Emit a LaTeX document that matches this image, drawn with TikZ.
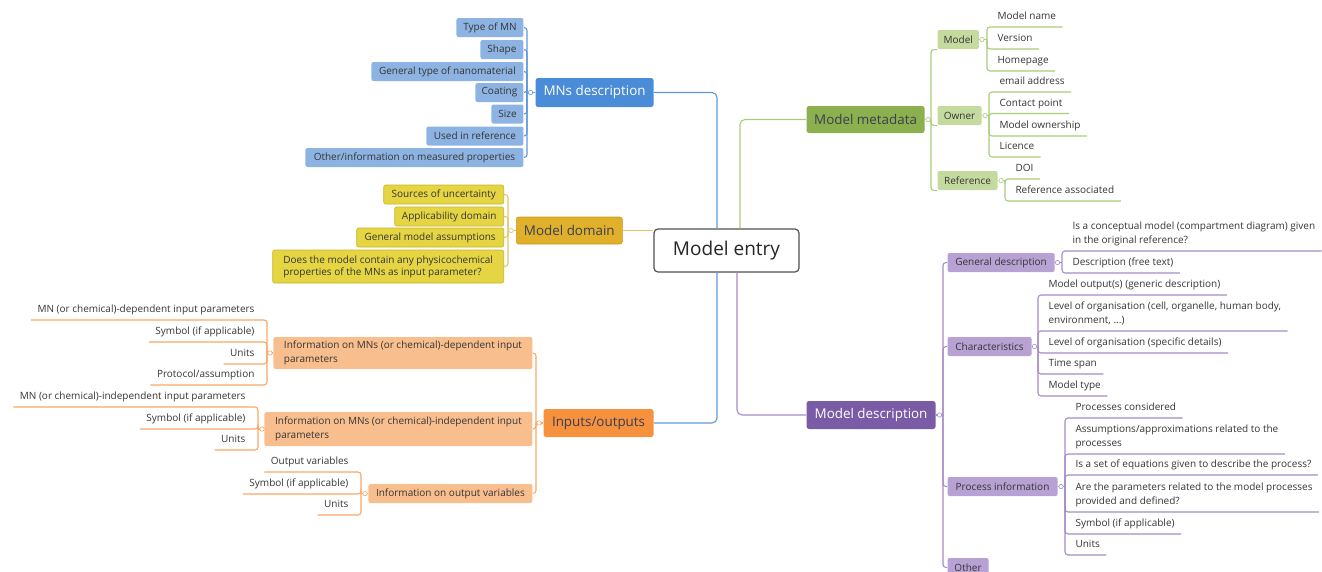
\documentclass[tikz,border=0pt]{standalone}
\usepackage{fontspec}
\setmainfont{Open Sans}
\definecolor{rootgray}{HTML}{505050}
\definecolor{txtgray}{HTML}{353535}
\definecolor{darktxt}{HTML}{3A3F55}
\definecolor{bluetop}{HTML}{4A8CD8}
\definecolor{bluesub}{HTML}{8DB3E2}
\definecolor{blueln}{HTML}{5E98DA}
\definecolor{yellowtop}{HTML}{E0B02A}
\definecolor{yellowdark}{HTML}{C99A1A}
\definecolor{yellowsub}{HTML}{E6D543}
\definecolor{yellowsubdk}{HTML}{C8B42A}
\definecolor{yellowln}{HTML}{E2C46E}
\definecolor{orangetop}{HTML}{F6913D}
\definecolor{orangesub}{HTML}{F9BE8E}
\definecolor{orangeln}{HTML}{F7A865}
\definecolor{greentop}{HTML}{8CB04D}
\definecolor{greensub}{HTML}{C5DA9F}
\definecolor{greenln}{HTML}{A9CC7B}
\definecolor{purpletop}{HTML}{7A5BA5}
\definecolor{purplesub}{HTML}{B8A1D3}
\definecolor{purpleln}{HTML}{A58CC6}
\begin{document}
\begin{tikzpicture}[x=1pt,y=-1pt,line width=1.1pt,
root/.style={draw=rootgray,line width=1.2pt,rounded corners=4pt,fill=white,minimum width=145pt,minimum height=43pt,font=\fontsize{19}{22}\selectfont,text=black!85},
topic/.style={rounded corners=2.5pt,anchor=west,minimum height=28pt,inner xsep=6pt,font=\fontsize{13.4}{16}\selectfont},
subtopic/.style={rounded corners=2pt,minimum height=19pt,inner xsep=6pt,inner ysep=2pt,font=\fontsize{10}{14}\selectfont,text=txtgray,align=left},
leafr/.style={anchor=south west,inner xsep=6pt,inner ysep=4pt,text depth=2.5pt,font=\fontsize{10}{14}\selectfont,text=txtgray,align=left},
leafl/.style={leafr,anchor=south east},
knob/.style={fill=white,line width=0.6pt}]

\useasboundingbox (0,0) rectangle (1322,571);

\draw (726.5,250.5) node[root] (root) {Model entry};

% MNs description
\draw (535,92.5) node[topic,fill=bluetop,text=white,minimum width=118pt,minimum height=29pt] (mnsd) {MNs description};
\draw (524,27.5) node[subtopic,fill=bluesub,anchor=east,minimum width=67pt] (bs1) {Type of MN};
\draw (524,49.5) node[subtopic,fill=bluesub,anchor=east,minimum width=43pt] (bs2) {Shape};
\draw (524,71.5) node[subtopic,fill=bluesub,anchor=east,minimum width=152pt] (bs3) {General type of nanomaterial};
\draw (524,92.5) node[subtopic,fill=bluesub,anchor=east,minimum width=48pt] (bs4) {Coating};
\draw (524,114) node[subtopic,fill=bluesub,anchor=east,minimum width=32pt] (bs5) {Size};
\draw (524,136) node[subtopic,fill=bluesub,anchor=east,minimum width=97pt] (bs6) {Used in reference};
\draw (524,157.5) node[subtopic,fill=bluesub,anchor=east,minimum width=218pt] (bs7) {Other/information on measured properties};

% Model domain
\draw (516,230.5) node[topic,fill=yellowtop,draw=yellowdark,line width=0.6pt,text=darktxt,minimum width=106pt,minimum height=27pt] (domain) {Model domain};
\draw (504,194.5) node[subtopic,fill=yellowsub,draw=yellowsubdk,line width=0.6pt,anchor=east,minimum width=120pt] (ys1) {Sources of uncertainty};
\draw (504,216.5) node[subtopic,fill=yellowsub,draw=yellowsubdk,line width=0.6pt,anchor=east,minimum width=109pt] (ys2) {Applicability domain};
\draw (504,237.5) node[subtopic,fill=yellowsub,draw=yellowsubdk,line width=0.6pt,anchor=east,minimum width=147pt] (ys3) {General model assumptions};
\draw (504,266.5) node[subtopic,fill=yellowsub,draw=yellowsubdk,line width=0.6pt,anchor=east,minimum width=231pt,minimum height=33pt,font=\fontsize{10}{12}\selectfont] (ys4) {Does the model contain any physicochemical\\properties of the MNs as input parameter?};

% Inputs/outputs
\draw (543,423) node[topic,fill=orangetop,text=darktxt,minimum width=110pt] (inout) {Inputs/outputs};
\draw (533,353) node[subtopic,fill=orangesub,anchor=east,minimum width=259pt,minimum height=32pt] (os1) {Information on MNs (or chemical)-dependent input\\parameters};
\draw (533,429) node[subtopic,fill=orangesub,anchor=east,minimum width=268pt,minimum height=34pt] (os2) {Information on MNs (or chemical)-independent input\\parameters};
\draw (533,493.5) node[subtopic,fill=orangesub,anchor=east,minimum width=164pt] (os3) {Information on output variables};
\draw (261,320) node[leafl] (ol1) {MN (or chemical)-dependent input parameters};
\draw (261,342) node[leafl] (ol2) {Symbol (if applicable)};
\draw (261,364) node[leafl] (ol3) {Units};
\draw (261,385) node[leafl] (ol4) {Protocol/assumption};
\draw (252,407) node[leafl] (ol5) {MN (or chemical)-independent input parameters};
\draw (252,429) node[leafl] (ol6) {Symbol (if applicable)};
\draw (252,450) node[leafl] (ol7) {Units};
\draw (355,472) node[leafl] (ol8) {Output variables};
\draw (355,494) node[leafl] (ol9) {Symbol (if applicable)};
\draw (355,515) node[leafl] (ol10) {Units};

% Model metadata
\draw (806,119.5) node[topic,fill=greentop,text=darktxt,minimum width=118pt,minimum height=27pt] (meta) {Model metadata};
\draw (937,39.5) node[subtopic,fill=greensub,anchor=west,minimum width=41pt] (gs1) {Model};
\draw (937,115.5) node[subtopic,fill=greensub,anchor=west,minimum width=44pt] (gs2) {Owner};
\draw (937,180.5) node[subtopic,fill=greensub,anchor=west,minimum width=60pt] (gs3) {Reference};
\draw (991,27) node[leafr] (gl1) {Model name};
\draw (991,49) node[leafr] (gl2) {Version};
\draw (991,71) node[leafr] (gl3) {Homepage};
\draw (993,92) node[leafr] (gl4) {email address};
\draw (993,113.5) node[leafr] (gl5) {Contact point};
\draw (993,136) node[leafr] (gl6) {Model ownership};
\draw (993,157) node[leafr] (gl7) {Licence};
\draw (1009,179) node[leafr] (gl8) {DOI};
\draw (1009,201) node[leafr] (gl9) {Reference associated};

% Model description
\draw (806,415) node[topic,fill=purpletop,text=white,minimum width=129pt] (mdesc) {Model description};
\draw (947,262.5) node[subtopic,fill=purplesub,anchor=west,minimum width=107pt] (ps1) {General description};
\draw (947,346.5) node[subtopic,fill=purplesub,anchor=west,minimum width=84pt] (ps2) {Characteristics};
\draw (947,486.5) node[subtopic,fill=purplesub,anchor=west,minimum width=110pt] (ps3) {Process information};
\draw (947,567.5) node[subtopic,fill=purplesub,anchor=west,minimum width=41pt] (ps4) {Other};
\draw (1066,251) node[leafr] (pl1) {Is a conceptual model (compartment diagram) given\\in the original reference?};
\draw (1066,273) node[leafr] (pl2) {Description (free text)};
\draw (1042,295) node[leafr] (pl3) {Model output(s) (generic description)};
\draw (1042,331) node[leafr] (pl4) {Level of organisation (cell, organelle, human body,\\environment, ...)};
\draw (1042,353) node[leafr] (pl5) {Level of organisation (specific details)};
\draw (1042,374) node[leafr] (pl6) {Time span};
\draw (1042,396) node[leafr] (pl7) {Model type};
\draw (1069,418) node[leafr] (pl8) {Processes considered};
\draw (1069,454) node[leafr] (pl9) {Assumptions/approximations related to the\\processes};
\draw (1069,475) node[leafr] (pl10) {Is a set of equations given to describe the process?};
\draw (1069,512) node[leafr] (pl11) {Are the parameters related to the model processes\\provided and defined?};
\draw (1069,534) node[leafr] (pl12) {Symbol (if applicable)};
\draw (1069,555) node[leafr] (pl13) {Units};

% bracket points
\coordinate (bb) at (527,92.5);
\coordinate (yb) at (508,230.5);
\coordinate (ob) at (536,423);
\coordinate (ob1) at (267,353);
\coordinate (ob2) at (258,429);
\coordinate (ob3) at (361,493.5);
\coordinate (gb) at (931,119.5);
\coordinate (gb1) at (987,39.5);
\coordinate (gb2) at (989,115.5);
\coordinate (gb3) at (1005,180.5);
\coordinate (pb) at (943,415);
\coordinate (pb1) at (1062,262.5);
\coordinate (pb2) at (1038,346.5);
\coordinate (pb3) at (1065,486.5);

% main branches
\draw[blueln,rounded corners=5pt] (mnsd.east) -| ([xshift=-9.5pt]root.north);
\draw[blueln,rounded corners=5pt] ([xshift=-9.5pt]root.south) |- (inout.east);
\draw[yellowln] (domain.east) -- (domain.east -| root.west);
\draw[greenln,rounded corners=5pt] ([xshift=13.5pt]root.north) |- (meta.west);
\draw[purpleln,rounded corners=5pt] ([xshift=10.5pt]root.south) |- (mdesc.west);

% blue
\draw[blueln] (mnsd.west) -- (bb);
\draw[blueln,rounded corners=3pt] (bb) |- (bs1.east);
\draw[blueln,rounded corners=3pt] (bb) |- (bs2.east);
\draw[blueln,rounded corners=3pt] (bb) |- (bs3.east);
\draw[blueln,rounded corners=3pt] (bb) |- (bs4.east);
\draw[blueln,rounded corners=3pt] (bb) |- (bs5.east);
\draw[blueln,rounded corners=3pt] (bb) |- (bs6.east);
\draw[blueln,rounded corners=3pt] (bb) |- (bs7.east);

% yellow
\draw[yellowln] (domain.west) -- (yb);
\draw[yellowln,rounded corners=3pt] (yb) |- (ys1.east);
\draw[yellowln,rounded corners=3pt] (yb) |- (ys2.east);
\draw[yellowln,rounded corners=3pt] (yb) |- (ys3.east);
\draw[yellowln,rounded corners=3pt] (yb) |- (ys4.east);

% orange
\draw[orangeln] (inout.west) -- (ob);
\draw[orangeln,rounded corners=3pt] (ob) |- (os1.east);
\draw[orangeln,rounded corners=3pt] (ob) |- (os2.east);
\draw[orangeln,rounded corners=3pt] (ob) |- (os3.east);
\draw[orangeln] (os1.west) -- (ob1);
\draw[orangeln,rounded corners=3pt] (ob1) |- (ol1.south west);
\draw[orangeln,rounded corners=3pt] (ob1) |- (ol2.south west);
\draw[orangeln,rounded corners=3pt] (ob1) |- (ol3.south west);
\draw[orangeln,rounded corners=3pt] (ob1) |- (ol4.south west);
\draw[orangeln] (os2.west) -- (ob2);
\draw[orangeln,rounded corners=3pt] (ob2) |- (ol5.south west);
\draw[orangeln,rounded corners=3pt] (ob2) |- (ol6.south west);
\draw[orangeln,rounded corners=3pt] (ob2) |- (ol7.south west);
\draw[orangeln] (os3.west) -- (ob3);
\draw[orangeln,rounded corners=3pt] (ob3) |- (ol8.south west);
\draw[orangeln,rounded corners=3pt] (ob3) |- (ol9.south west);
\draw[orangeln,rounded corners=3pt] (ob3) |- (ol10.south west);

% green
\draw[greenln] (meta.east) -- (gb);
\draw[greenln,rounded corners=3pt] (gb) |- (gs1.south west);
\draw[greenln,rounded corners=3pt] (gb) |- (gs2.south west);
\draw[greenln,rounded corners=3pt] (gb) |- (gs3.south west);
\draw[greenln] (gs1.east) -- (gb1);
\draw[greenln,rounded corners=3pt] (gb1) |- (gl1.south east);
\draw[greenln,rounded corners=3pt] (gb1) |- (gl2.south east);
\draw[greenln,rounded corners=3pt] (gb1) |- (gl3.south east);
\draw[greenln] (gs2.east) -- (gb2);
\draw[greenln,rounded corners=3pt] (gb2) |- (gl4.south east);
\draw[greenln,rounded corners=3pt] (gb2) |- (gl5.south east);
\draw[greenln,rounded corners=3pt] (gb2) |- (gl6.south east);
\draw[greenln,rounded corners=3pt] (gb2) |- (gl7.south east);
\draw[greenln] (gs3.east) -- (gb3);
\draw[greenln,rounded corners=3pt] (gb3) |- (gl8.south east);
\draw[greenln,rounded corners=3pt] (gb3) |- (gl9.south east);

% purple
\draw[purpleln] (mdesc.east) -- (pb);
\draw[purpleln,rounded corners=3pt] (pb) |- (ps1.west);
\draw[purpleln,rounded corners=3pt] (pb) |- (ps2.west);
\draw[purpleln,rounded corners=3pt] (pb) |- (ps3.west);
\draw[purpleln,rounded corners=3pt] (pb) |- (ps4.west);
\draw[purpleln] (ps1.east) -- (pb1);
\draw[purpleln,rounded corners=3pt] (pb1) |- (pl1.south east);
\draw[purpleln,rounded corners=3pt] (pb1) |- (pl2.south east);
\draw[purpleln] (ps2.east) -- (pb2);
\draw[purpleln,rounded corners=3pt] (pb2) |- (pl3.south east);
\draw[purpleln,rounded corners=3pt] (pb2) |- (pl4.south east);
\draw[purpleln,rounded corners=3pt] (pb2) |- (pl5.south east);
\draw[purpleln,rounded corners=3pt] (pb2) |- (pl6.south east);
\draw[purpleln,rounded corners=3pt] (pb2) |- (pl7.south east);
\draw[purpleln] (ps3.east) -- (pb3);
\draw[purpleln,rounded corners=3pt] (pb3) |- (pl8.south east);
\draw[purpleln,rounded corners=3pt] (pb3) |- (pl9.south east);
\draw[purpleln,rounded corners=3pt] (pb3) |- (pl10.south east);
\draw[purpleln,rounded corners=3pt] (pb3) |- (pl11.south east);
\draw[purpleln,rounded corners=3pt] (pb3) |- (pl12.south east);
\draw[purpleln,rounded corners=3pt] (pb3) |- (pl13.south east);

% collapse knobs
\draw[knob,draw=blueln] (530.5,92.5) circle (2.2);
\draw[knob,draw=yellowln] (511,230.5) circle (2.2);
\draw[knob,draw=orangeln] (539,423) circle (2.2);
\draw[knob,draw=orangeln] (270,353) circle (2.2);
\draw[knob,draw=orangeln] (262,429) circle (2.2);
\draw[knob,draw=orangeln] (365,493.5) circle (2.2);
\draw[knob,draw=greenln] (928,119.5) circle (2.2);
\draw[knob,draw=greenln] (982,39.5) circle (2.2);
\draw[knob,draw=greenln] (985,115.5) circle (2.2);
\draw[knob,draw=greenln] (1001,180.5) circle (2.2);
\draw[knob,draw=purpleln] (939.5,415) circle (2.2);
\draw[knob,draw=purpleln] (1057.5,262.5) circle (2.2);
\draw[knob,draw=purpleln] (1034.5,346.5) circle (2.2);
\draw[knob,draw=purpleln] (1061,486.5) circle (2.2);

\end{tikzpicture}
\end{document}
